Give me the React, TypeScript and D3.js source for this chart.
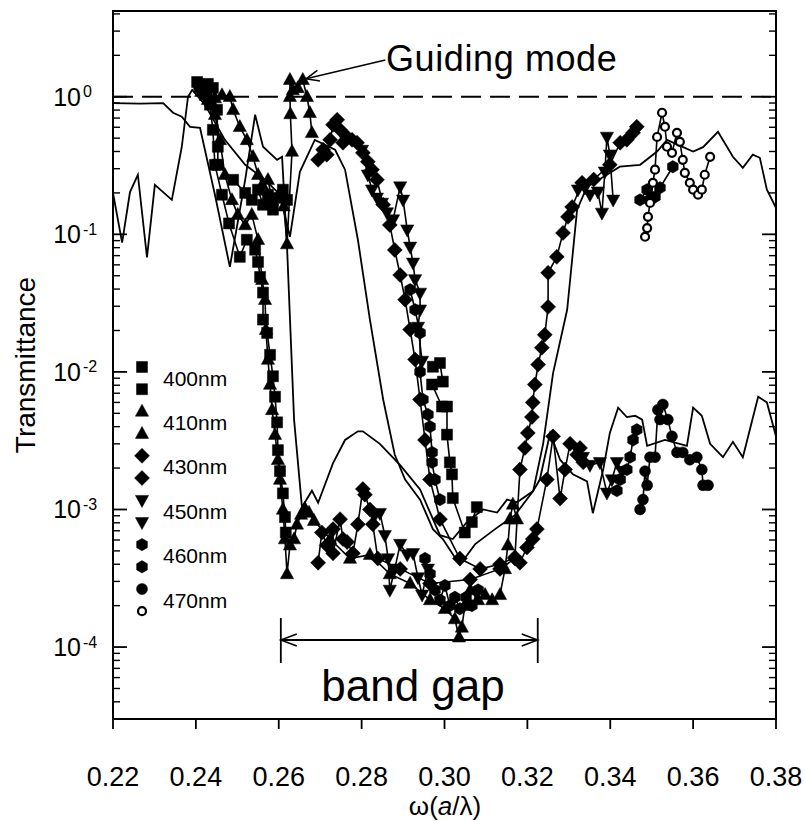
import React from 'react';
import * as d3 from 'd3';

type Pt = [number, number];

// axis content
const xTickValues = [0.22, 0.24, 0.26, 0.28, 0.30, 0.32, 0.34, 0.36, 0.38];
const xTickLabels = ['0.22', '0.24', '0.26', '0.28', '0.30', '0.32', '0.34', '0.36', '0.38'];
const yDecades = [0, -1, -2, -3, -4];
const legendNames = ['400nm', '410nm', '430nm', '450nm', '460nm', '470nm'];
const bandGap = [0.2605, 0.3225];

// simulated spectra (plain lines)
const simHigh: Pt[] = [[.2200,.90],[.2265,.89],[.2321,.90],[.2345,.765],[.2366,.715],[.2386,.605],[.2410,.595],[.2446,.194],[.2482,.058],[.2519,.249],[.2543,.74],[.2562,.433],[.2596,.348],[.2608,.366],[.2620,.081],[.2637,.0045],[.2656,.00104],[.2680,.00137],[.2695,.00112],[.2731,.00217],[.2760,.0032],[.2791,.0037],[.2803,.0037],[.2844,.0030],[.2893,.0021],[.2941,.0014],[.2989,.00065],[.3020,.00061],[.3054,.00081],[.3093,.0010],[.3127,.00095],[.3151,.00118],[.3175,.00113],[.3214,.00136],[.3238,.0030],[.3262,.0098],[.3296,.0283],[.3320,.151],[.3344,.222],[.3392,.271],[.3423,.31],[.3472,.32],[.3513,.40],[.3537,.486],[.3576,.43],[.3600,.40],[.3624,.43],[.3660,.556],[.3696,.366],[.3720,.304],[.3744,.379],[.3761,.36],[.3778,.211],[.3800,.156]];
const simLow: Pt[] = [[.2200,.200],[.2222,.087],[.2241,.203],[.2260,.271],[.2282,.068],[.2301,.229],[.2342,.178],[.2366,.433],[.2381,1.0],[.2391,1.12],[.2422,.875],[.2470,.486],[.2519,.32],[.2567,.249],[.2603,.194],[.2627,.096],[.2651,.285],[.2687,.486],[.2736,.412],[.2760,.295],[.2791,.0913],[.2820,.024],[.2852,.0063],[.2880,.0025],[.2905,.00165],[.2941,.00118],[.2972,.00072],[.2996,.00061],[.3037,.000395],[.3074,.00056],[.3122,.00072],[.3170,.00091],[.3214,.00136],[.3230,.00165],[.3255,.0036],[.3279,.0023],[.3310,.0018],[.3344,.0016],[.3358,.00094],[.3383,.00195],[.3399,.0036],[.3419,.0055],[.3440,.0047],[.3460,.0048],[.3477,.0045],[.3489,.0029],[.3532,.0032],[.3585,.0029],[.3600,.0055],[.3621,.0048],[.3641,.0030],[.3672,.0024],[.3696,.0031],[.3720,.0024],[.3757,.0066],[.3778,.006],[.3800,.0034]];

// measured runs, two per lattice constant
const sq400a: Pt[] = [[.2403,1.28],[.2417,1.20],[.2429,1.24],[.2441,1.16],[.2451,.804],[.2453,.433],[.2453,.320],[.2490,.249],[.2519,.200],[.2535,.178],[.2550,.211],[.2562,.164],[.2574,.194],[.2586,.151],[.2598,.184],[.2610,.211],[.2620,.178]];
const sq400b: Pt[] = [[.2408,1.22],[.2422,1.03],[.2434,.875],[.2441,.575],[.2446,.320],[.2463,.194],[.2480,.12],[.2506,.0686],[.2523,.0913],[.2543,.0773],[.2550,.063],[.2555,.049],[.2562,.0377],[.2562,.024],[.2572,.0192],[.2579,.0133],[.2586,.0093],[.2591,.0066],[.2596,.0043],[.2598,.0027],[.2603,.0019],[.2610,.00131],[.2615,.00088],[.2617,.00068]];
const sq400bGap: Pt[] = [[.2972,.0109],[.2989,.0116],[.2996,.0085],[.2970,.0081],[.2994,.0056],[.3006,.0056],[.3006,.0035],[.3013,.0022],[.3018,.0018],[.3020,.00121],[.3049,.00068],[.3066,.00081],[.3078,.00104]];
const tri410a: Pt[] = [[.2410,1.16],[.2427,1.09],[.2446,.98],[.2463,1.03],[.2482,1.0],[.2490,.804],[.2506,.605],[.2523,.486],[.2538,.366],[.2550,.271],[.2560,.229],[.2574,.249],[.2584,.178],[.2598,.19],[.2612,.16],[.2620,.085],[.2632,.40],[.2628,.75],[.2627,1.0],[.2627,1.33],[.2634,1.12],[.2646,1.16],[.2658,1.33],[.2668,1.0],[.2675,.765],[.2680,.547]];
const tri410b: Pt[] = [[.2413,1.09],[.2429,.95],[.2446,.74],[.2458,.486],[.2470,.271],[.2487,.178],[.2501,.139],[.2519,.117],[.2535,.139],[.2550,.0913],[.2560,.0468],[.2567,.0335],[.2569,.0203],[.2574,.0123],[.2579,.0081],[.2584,.0053],[.2591,.0035],[.2598,.0023],[.2603,.00165],[.2610,.00100],[.2615,.00061],[.2620,.00034],[.2627,.00055],[.2637,.00061],[.2644,.00078],[.2654,.00092],[.2663,.00102],[.2673,.00095],[.2685,.00083],[.2724,.00061],[.2772,.00044],[.2820,.00047],[.2868,.00034],[.2917,.00029],[.2965,.00022],[.3001,.00019],[.3025,.00016],[.3035,.000118],[.3042,.000139],[.3049,.0002],[.3062,.00026],[.3081,.00022],[.3098,.00024],[.3115,.00022],[.3134,.00024],[.3146,.00037],[.3153,.00055],[.3158,.00085],[.3165,.00109],[.3175,.00085]];
const dia430a: Pt[] = [[.2695,.348],[.2707,.412],[.2716,.379],[.2724,.486],[.2731,.626],[.2741,.68],[.2748,.575],[.2755,.463],[.2765,.51],[.2777,.486],[.2789,.463],[.2803,.391],[.2815,.337],[.2825,.295],[.2837,.249],[.2852,.164],[.2868,.117],[.2880,.077],[.2893,.0506],[.2905,.0335],[.2917,.0203],[.2929,.0123],[.2941,.0063],[.2953,.0032],[.2965,.00165],[.2989,.00085],[.3037,.00044],[.3086,.00037],[.3134,.0004],[.3170,.00045],[.3182,.00195],[.3194,.0028],[.3201,.0036],[.3211,.0047],[.3213,.006],[.3218,.0081],[.3226,.0113],[.3235,.015],[.3242,.0186],[.3250,.0297],[.3250,.0525],[.3271,.0686],[.3286,.1024],[.3298,.134],[.3308,.158],[.3332,.237],[.3360,.25],[.3399,.32],[.3424,.463],[.3440,.486],[.3455,.547],[.3464,.605]];
const dia430b: Pt[] = [[.2695,.00041],[.2704,.00068],[.2716,.00055],[.2731,.00072],[.2731,.00048],[.2748,.00085],[.2755,.00061],[.2765,.00058],[.2779,.00048],[.2791,.00078],[.2803,.00141],[.2808,.00128],[.2820,.001],[.2827,.00078],[.2839,.00044],[.2893,.00037],[.2965,.00029],[.3062,.00031],[.3134,.00037],[.3170,.00044],[.3182,.00041],[.3199,.00053],[.3213,.00061],[.3223,.00072],[.3247,.00165],[.3262,.0034],[.3279,.0012],[.3291,.00195],[.3303,.003],[.3320,.0025],[.3327,.0028],[.3335,.0022]];
const tri450aLeft: Pt[] = [[.2801,.41],[.2815,.271],[.2825,.211],[.2837,.184],[.2849,.169],[.2861,.144],[.2876,.128],[.2893,.222],[.2900,.178],[.2910,.108],[.2917,.081],[.2924,.062],[.2929,.047],[.2941,.0375],[.2941,.0283],[.2936,.0212],[.2946,.012]];
const tri450aRight: Pt[] = [[.3322,.211],[.3339,.218],[.3351,.194],[.3370,.204],[.3380,.143],[.3387,.285],[.3392,.51],[.3399,.379],[.3407,.178]];
const tri450bLeft: Pt[] = [[.2832,.00091],[.2844,.00094],[.2856,.00065],[.2864,.00044],[.2868,.00026],[.2880,.00037],[.2893,.00056],[.2910,.00047],[.2924,.00048],[.2936,.00032],[.2946,.00024],[.2960,.00037]];
const tri450bRight: Pt[] = [[.3322,.0027],[.3334,.0024],[.3351,.0021],[.3375,.0022],[.3392,.00132],[.3404,.00165],[.3416,.0022],[.3428,.0019]];
const hex460aLeft: Pt[] = [[.2917,.0396],[.2929,.0283],[.2941,.0192],[.2941,.01],[.2948,.0063],[.2960,.0049],[.2965,.004],[.2970,.0026],[.2970,.0022],[.2977,.00165],[.2989,.00118]];
const hex460aRight: Pt[] = [[.3472,.178],[.3489,.211],[.3496,.178],[.3508,.187],[.3520,.218],[.3551,.31]];
const hex460bLeft: Pt[] = [[.2953,.00044],[.2965,.00034],[.2977,.00026],[.2989,.00022],[.3001,.00028],[.3013,.0002],[.3025,.00023],[.3037,.00019],[.3052,.00023],[.3066,.0002],[.3081,.00026]];
const hex460bRight: Pt[] = [[.3416,.00137],[.3424,.00165],[.3440,.00195],[.3448,.0024],[.3455,.0032],[.3464,.0038]];
const circ470a: Pt[] = [[.3472,.001],[.3479,.00118],[.3484,.0019],[.3489,.0015],[.3496,.0024],[.3508,.0024],[.3515,.0053],[.3520,.0045],[.3527,.0058],[.3539,.0045],[.3549,.0034],[.3561,.0026],[.3575,.0026],[.3592,.0023],[.3609,.0024],[.3621,.00195],[.3624,.0015],[.3636,.0015]];
const circ470b: Pt[] = [[.3484,.096],[.3489,.111],[.3491,.134],[.3496,.169],[.3503,.237],[.3508,.295],[.3513,.51],[.3525,.765],[.3532,.605],[.3537,.433],[.3549,.391],[.3561,.547],[.3568,.47],[.3575,.348],[.3580,.28],[.3592,.237],[.3600,.211],[.3612,.194],[.3621,.211],[.3628,.271],[.3641,.366]];

const runs = [
  { shape: 'square', segs: [sq400a] },
  { shape: 'square', segs: [sq400b, sq400bGap] },
  { shape: 'triUp', segs: [tri410a] },
  { shape: 'triUp', segs: [tri410b] },
  { shape: 'diamond', segs: [dia430a] },
  { shape: 'diamond', segs: [dia430b] },
  { shape: 'triDown', segs: [tri450aLeft, tri450aRight] },
  { shape: 'triDown', segs: [tri450bLeft, tri450bRight] },
  { shape: 'hexagon', segs: [hex460aLeft, hex460aRight] },
  { shape: 'hexagon', segs: [hex460bLeft, hex460bRight] },
  { shape: 'circle', segs: [circ470a] },
  { shape: 'open', segs: [circ470b] },
];

function symbolPath(shape: string): string {
  switch (shape) {
    case 'square': return 'M-5.5,-5.5h11v11h-11Z';
    case 'triUp': return 'M0,-7.2L6.6,4.8L-6.6,4.8Z';
    case 'triDown': return 'M0,7.2L6.6,-4.8L-6.6,-4.8Z';
    case 'diamond': return 'M0,-7.5L7.5,0L0,7.5L-7.5,0Z';
    case 'hexagon': {
      const pts = d3.range(6).map(i => {
        const a = Math.PI / 2 + i * Math.PI / 3;
        return [6.2 * Math.cos(a), 6.2 * Math.sin(a)];
      });
      return 'M' + pts.map(p => p[0].toFixed(2) + ',' + p[1].toFixed(2)).join('L') + 'Z';
    }
    default: return d3.symbol().type(d3.symbolCircle).size(shape === 'open' ? 50 : 95)() as string;
  }
}

function Marker({ shape, x, y }: { shape: string; x: number; y: number }) {
  const open = shape === 'open';
  return (
    <path d={symbolPath(shape)} transform={`translate(${x},${y})`}
      fill={open ? '#fff' : '#000'} stroke="#000" strokeWidth={open ? 2.2 : 0.5} />
  );
}

export default function App() {
  const left = 113, right = 776, top = 11, bottom = 719;
  const x = d3.scaleLinear().domain([0.22, 0.38]).range([left, right]);
  const y = d3.scaleLog().domain([3e-5, 4.2]).range([bottom, top]);
  const line = d3.line<Pt>().x(d => x(d[0])).y(d => y(d[1]));

  const font = "'Liberation Sans', Arial, Helvetica, sans-serif";

  const minor: number[] = [];
  for (let e = -5; e <= 0; e++) {
    for (let k = 2; k <= 9; k++) {
      const v = k * Math.pow(10, e);
      if (v > 3e-5 && v < 4.2) minor.push(v);
    }
  }

  const legendX = 142, legendTop = 367, legendStep = 22.2;
  const legendShapes = ['square', 'square', 'triUp', 'triUp', 'diamond', 'diamond', 'triDown', 'triDown', 'hexagon', 'hexagon', 'circle', 'open'];

  const gapY = 640;
  const gx0 = x(bandGap[0]), gx1 = x(bandGap[1]);
  const tipX = x(0.2666), tipY = y(1.35), tailX = x(0.2850), tailY = y(1.85);
  const ang = Math.atan2(tailY - tipY, tailX - tipX);
  const head = (a: number) => `${tipX + 14 * Math.cos(ang + a)},${tipY + 14 * Math.sin(ang + a)}`;

  return (
    <svg width={805} height={821} style={{ position: 'absolute', left: 0, top: 0, background: '#fff' }}
      fontFamily={font}>
      <rect x={0} y={0} width={805} height={821} fill="#fff" />
      <defs>
        <clipPath id="plotClip">
          <rect x={left} y={top} width={right - left} height={bottom - top} />
        </clipPath>
      </defs>

      <g clipPath="url(#plotClip)">
        <line x1={left} x2={right} y1={y(1)} y2={y(1)} stroke="#000" strokeWidth={1.8} strokeDasharray="20,9" />
        <path d={line(simHigh) || ''} fill="none" stroke="#000" strokeWidth={1.8} />
        <path d={line(simLow) || ''} fill="none" stroke="#000" strokeWidth={1.8} />
        {runs.map((r, i) => (
          <g key={i}>
            {r.segs.map((s, j) => (
              <path key={j} d={line(s) || ''} fill="none" stroke="#000" strokeWidth={1.6} />
            ))}
            {r.segs.map((s, j) => s.map((d, k) => (
              <Marker key={j + '-' + k} shape={r.shape} x={x(d[0])} y={y(d[1])} />
            )))}
          </g>
        ))}
      </g>

      {/* frame */}
      <rect x={left} y={top} width={right - left} height={bottom - top} fill="none" stroke="#000" strokeWidth={2} />

      {/* x ticks */}
      {xTickValues.map((v, i) => (
        <g key={i}>
          <line x1={x(v)} x2={x(v)} y1={bottom} y2={bottom + 10} stroke="#000" strokeWidth={1.8} />
          <text x={x(v)} y={786} textAnchor="middle" fontSize={27}>{xTickLabels[i]}</text>
        </g>
      ))}

      {/* y ticks, both sides, inward */}
      {yDecades.map(e => {
        const yy = y(Math.pow(10, e));
        return (
          <g key={e}>
            <line x1={left} x2={left + 14} y1={yy} y2={yy} stroke="#000" strokeWidth={1.8} />
            <line x1={right} x2={right - 14} y1={yy} y2={yy} stroke="#000" strokeWidth={1.8} />
            <text x={81} y={yy + 9} textAnchor="end" fontSize={25}>10</text>
            <text x={83} y={yy + 0.5} textAnchor="start" fontSize={16}>{e === 0 ? '0' : '-' + Math.abs(e)}</text>
          </g>
        );
      })}
      {minor.map((v, i) => (
        <g key={i}>
          <line x1={left} x2={left + 7} y1={y(v)} y2={y(v)} stroke="#000" strokeWidth={1.4} />
          <line x1={right} x2={right - 7} y1={y(v)} y2={y(v)} stroke="#000" strokeWidth={1.4} />
        </g>
      ))}

      {/* axis titles */}
      <text transform="translate(35,365) rotate(-90)" textAnchor="middle" fontSize={28}>Transmittance</text>
      <text x={445} y={815} textAnchor="middle" fontSize={26}>
        ω(<tspan fontStyle="italic">a</tspan>/λ)
      </text>

      {/* legend */}
      {legendShapes.map((s, i) => (
        <Marker key={i} shape={s} x={legendX} y={legendTop + i * legendStep} />
      ))}
      {legendNames.map((n, i) => (
        <text key={n} x={163} y={legendTop + (2 * i + 0.5) * legendStep + 7.5} fontSize={21}>{n}</text>
      ))}

      {/* band gap annotation */}
      <line x1={gx0} x2={gx0} y1={gapY - 22} y2={gapY + 23} stroke="#000" strokeWidth={1.8} />
      <line x1={gx1} x2={gx1} y1={gapY - 22} y2={gapY + 23} stroke="#000" strokeWidth={1.8} />
      <line x1={gx0} x2={gx1} y1={gapY} y2={gapY} stroke="#000" strokeWidth={1.8} />
      <path d={`M${gx0 + 16},${gapY - 6}L${gx0},${gapY}L${gx0 + 16},${gapY + 6}`} fill="none" stroke="#000" strokeWidth={1.5} />
      <path d={`M${gx1 - 16},${gapY - 6}L${gx1},${gapY}L${gx1 - 16},${gapY + 6}`} fill="none" stroke="#000" strokeWidth={1.5} />
      <text x={413} y={701} textAnchor="middle" fontSize={44}>band gap</text>

      {/* guiding mode annotation */}
      <line x1={tipX} y1={tipY} x2={tailX + 3} y2={tailY} stroke="#000" strokeWidth={1.5} />
      <path d={`M${head(0.4)}L${tipX},${tipY}L${head(-0.4)}`} fill="none" stroke="#000" strokeWidth={1.5} />
      <text x={386} y={71} fontSize={36} letterSpacing={0.6}>Guiding mode</text>
    </svg>
  );
}
